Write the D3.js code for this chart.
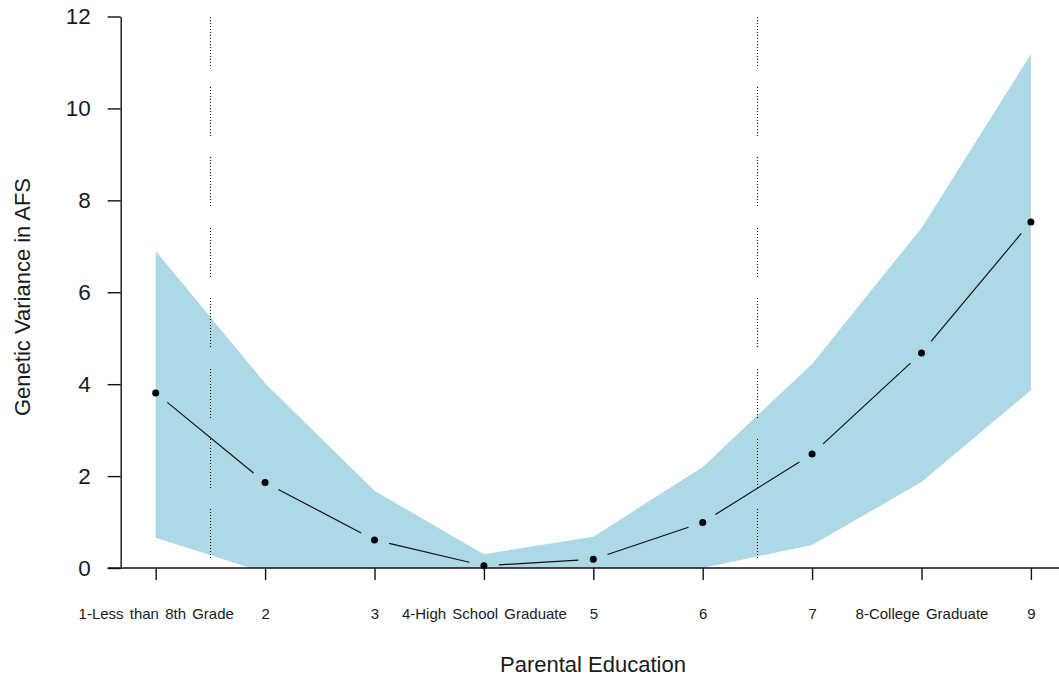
<!DOCTYPE html>
<html><head><meta charset="utf-8">
<script src="https://cdn.jsdelivr.net/npm/d3@7"></script>
<style>
body{margin:0;background:#fff;overflow:hidden}
text{font-family:"Liberation Sans",Arial,sans-serif;fill:#1a1a1a}
</style>
</head><body><svg id="c" width="1059" height="679"></svg>
<script>
// ---- data ----
const education = [1,2,3,4,5,6,7,8,9];
const tickLabels = ["1-Less than 8th Grade","2","3","4-High School Graduate","5","6","7","8-College Graduate","9"];
const variance = [3.81,1.86,0.61,0.05,0.19,0.99,2.48,4.68,7.53];
const upperCI  = [6.90,4.02,1.68,0.30,0.68,2.20,4.44,7.40,11.18];
const lowerCI  = [0.66,-0.10,0,0,0,0,0.50,1.87,3.87];
const cutpoints = [1.5,6.5];
const yTicks = [0,2,4,6,8,10,12];

// ---- layout ----
const svg = d3.select("#c");
const W = 1059, H = 679;
const x = d3.scaleLinear().domain([1,9]).range([155.7,1030.9]);
const y = d3.scaleLinear().domain([0,12]).range([568,16.5]);
const xLeft = x(0.68);

svg.append("defs").append("clipPath").attr("id","plotclip")
  .append("rect").attr("x",xLeft).attr("y",0).attr("width",W-xLeft).attr("height",y(0));

const band = education.map((e,i)=>({e,lo:lowerCI[i],hi:upperCI[i]}));
svg.append("path").datum(band)
  .attr("clip-path","url(#plotclip)")
  .attr("fill","#ADD8E6")
  .attr("d", d3.area().x(d=>x(d.e)).y0(d=>y(d.lo)).y1(d=>y(d.hi)));

// dotted cutpoint lines (segmented)
const segLen = 1.09, period = 1.532, nSeg = 8;
cutpoints.forEach(c=>{
  for(let k=0;k<nSeg;k++){
    const top = 12 - k*period, bot = top - segLen;
    svg.append("line").attr("x1",Math.round(x(c))+0.5).attr("x2",Math.round(x(c))+0.5)
      .attr("y1",Math.round(y(top))).attr("y2",Math.round(y(bot)))
      .attr("stroke","#000").attr("stroke-width",1.2).attr("stroke-dasharray","1,2")
      .attr("shape-rendering","crispEdges");
  }
});

// line type "b": segments with gaps near points
const gap = 15;
for(let i=0;i<education.length-1;i++){
  const x1=x(education[i]), y1=y(variance[i]), x2=x(education[i+1]), y2=y(variance[i+1]);
  const dx=x2-x1, dy=y2-y1, L=Math.hypot(dx,dy);
  if(L>2*gap){
    svg.append("line")
      .attr("x1",x1+dx/L*gap).attr("y1",y1+dy/L*gap)
      .attr("x2",x2-dx/L*gap).attr("y2",y2-dy/L*gap)
      .attr("stroke","#111").attr("stroke-width",1.2);
  }
}
svg.append("g").selectAll("circle").data(education).join("circle")
  .attr("cx",d=>x(d)).attr("cy",(d,i)=>y(variance[i])).attr("r",3.5).attr("fill","#000");

// y axis
const yAxis = svg.append("g").attr("transform",`translate(${xLeft},0)`)
  .call(d3.axisLeft(y).tickValues(yTicks).tickSize(13).tickSizeOuter(0).tickPadding(17));
yAxis.select(".domain").attr("stroke","#111").attr("stroke-width",1.4);
yAxis.selectAll(".tick line").attr("stroke","#111").attr("stroke-width",1.4);
yAxis.selectAll("text").style("font-size","22.5px").attr("fill","#1a1a1a");

// x axis
svg.append("line").attr("x1",xLeft-13).attr("x2",W).attr("y1",y(0)).attr("y2",y(0))
  .attr("stroke","#111").attr("stroke-width",1.4);
const xAxis = svg.append("g").attr("transform",`translate(0,${y(0)})`)
  .call(d3.axisBottom(x).tickValues(education).tickSize(12).tickPadding(28)
    .tickFormat((d,i)=>tickLabels[i]));
xAxis.select(".domain").remove();
xAxis.selectAll(".tick line").attr("stroke","#111").attr("stroke-width",1.4);
xAxis.selectAll("text").style("font-size","15px").style("word-spacing","2px").attr("fill","#1a1a1a");

// axis titles
svg.append("text").attr("x",593).attr("y",672).attr("text-anchor","middle")
  .style("font-size","22px").text("Parental Education");
svg.append("text").attr("transform","translate(30,297) rotate(-90)").attr("text-anchor","middle")
  .style("font-size","22px").text("Genetic Variance in AFS");
</script></body></html>
